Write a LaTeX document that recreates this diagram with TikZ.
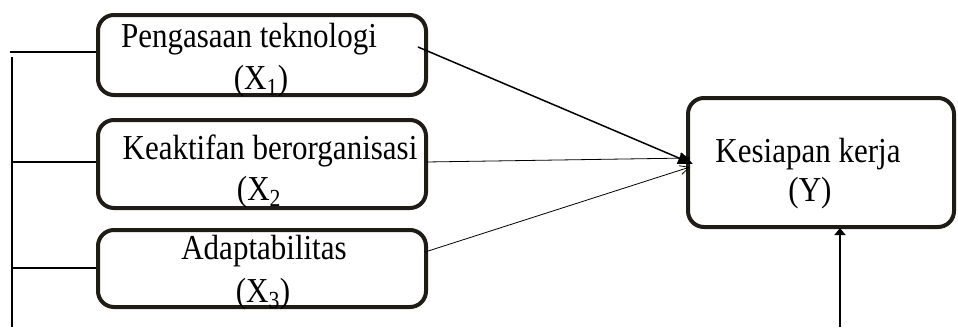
\documentclass[tikz,border=0pt]{standalone}
\usepackage{fontspec}
\setmainfont{Liberation Serif}
\usetikzlibrary{arrows.meta}
\definecolor{boxline}{RGB}{30,28,20}
\newcommand{\tallt}[1]{\scalebox{1}[1.13]{#1}}
\begin{document}
\begin{tikzpicture}[x=1pt,y=-1pt,
  varbox/.style={draw=boxline, line width=4pt, rounded corners=16pt, inner sep=0pt},
  txt/.style={anchor=base, inner sep=0pt, font=\fontsize{31}{36}\selectfont},
  bracket/.style={line width=1.5pt, draw=black},
  thickarrow/.style={line width=1.5pt, -{Triangle[length=15pt,width=12pt]}},
  thinarrow/.style={line width=0.8pt, -{Straight Barb[length=9pt,width=9pt]}},
  uparrow/.style={line width=2pt, -{Triangle[length=7pt,width=11pt]}}]
\useasboundingbox (0,0) rectangle (958,327);

% boxes
\node[varbox, minimum width=328pt, minimum height=80pt] (x1) at (262,55) {};
\node[varbox, minimum width=328pt, minimum height=88pt] (x2) at (262,164) {};
\node[varbox, minimum width=328pt, minimum height=77pt] (x3) at (262,268.5) {};
\node[varbox, minimum width=266pt, minimum height=129pt] (y) at (821,162.5) {};

% texts
\node[txt] (t1a) at (249,47) {\tallt{Pengasaan teknologi}};
\node[txt] (t1b) at (261,89) {\tallt{(X\textsubscript{1})}};
\node[txt] (t2a) at (270,159) {\tallt{Keaktifan berorganisasi}};
\node[txt] (t2b) at (259,200) {\tallt{(X\textsubscript{2}}};
\node[txt] (t3a) at (264,259) {\tallt{Adaptabilitas}};
\node[txt] (t3b) at (263,302) {\tallt{(X\textsubscript{3})}};
\node[txt] (tya) at (808,162) {\tallt{Kesiapan kerja}};
\node[txt] (tyb) at (810,201) {\tallt{(Y)}};

% connector points
\coordinate (s1) at (418,47);
\coordinate (s2) at (426,162);
\coordinate (s3) at (425,252);
\coordinate (tip1) at (693,164);
\coordinate (tip2) at (690,158);
\coordinate (tip3) at (690,167);
\coordinate (bot) at (840,327);
\coordinate (ybot) at (840,228);

\draw[thickarrow] (s1) -- (tip1);
\draw[thinarrow] (s2) -- (tip2);
\draw[thinarrow] (s3) -- (tip3);
\draw[uparrow] (bot) -- (ybot);

% left bracket
\coordinate (v0) at (12,57);
\coordinate (v1) at (12,327);
\coordinate (h1) at (10,52);
\coordinate (h2) at (11,162);
\coordinate (h3) at (11,268);
\draw[bracket] (v0) -- (v1);
\draw[bracket] (h1) -- (h1 -| x1.west);
\draw[bracket] (h2) -- (h2 -| x2.west);
\draw[bracket] (h3) -- (h3 -| x3.west);
\end{tikzpicture}
\end{document}
